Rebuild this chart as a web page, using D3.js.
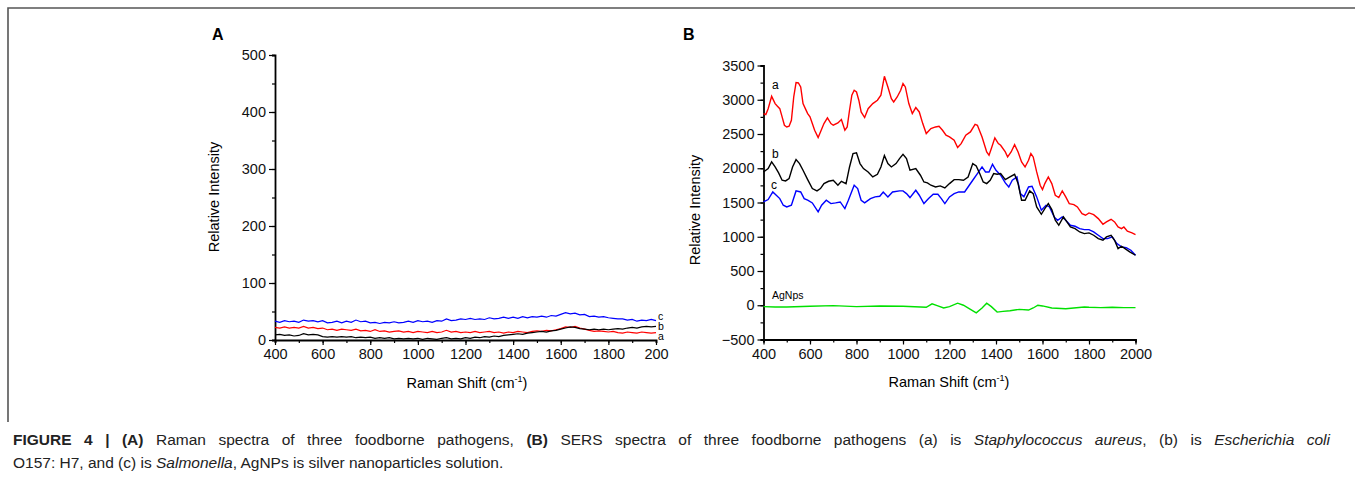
<!DOCTYPE html>
<html>
<head>
<meta charset="utf-8">
<script src="https://cdn.jsdelivr.net/npm/d3@7"></script>
<style>
  body { margin: 0; background: #fff; }
  svg { display: block; font-family: "Liberation Sans", Arial, sans-serif; }
</style>
</head>
<body>
<svg id="fig" width="1355" height="484"></svg>
<script>
// ---- panel A : Raman spectra, sampled every 20 cm-1 from 400 to 2000
const shiftA = d3.range(400, 2001, 20);
const ramanA_a = [22,21,23,21,22,21,24,21,22,20,21,18,19,17,19,18,17,19,16,17,15,18,15,16,14,15,16,14,15,13,15,14,13,15,13,14,17,14,15,13,14,13,15,13,14,15,13,14,12,14,13,15,14,13,15,16,15,17,16,18,20,23,22,24,21,19,17,15,16,15,14,15,13,12,14,13,12,14,13,12,13];
const ramanA_b = [9,10,8,9,7,8,11,9,10,9,6,5,6,5,6,5,6,4,5,4,5,3,4,3,4,2,3,2,3,2,3,1,3,2,1,3,4,2,3,2,4,3,5,4,6,5,7,6,8,9,10,11,10,12,13,14,15,14,16,17,19,21,23,22,20,19,18,19,18,19,18,19,20,19,21,22,21,23,24,23,24];
const ramanA_c = [33,31,34,32,33,31,35,33,34,32,34,30,31,33,30,33,31,35,32,33,30,31,29,31,30,32,30,31,33,31,34,32,33,31,34,33,37,34,35,37,36,38,36,37,36,39,37,38,40,38,40,38,41,39,41,40,42,40,43,42,45,48,46,47,44,45,41,42,40,41,39,38,37,37,35,36,33,35,34,36,34];
const xTickLabelsA = ["400","600","800","1000","1200","1400","1600","1800","200"];
const yTicksA = [0,100,200,300,400,500];

// ---- panel B : SERS spectra, [shift, intensity]
const sersB_a = [[400,2798],[410,2783],[420,2870],[435,3050],[450,2944],[460,2905],[470,2870],[480,2750],[490,2628],[500,2603],[510,2613],[520,2700],[530,3040],[540,3250],[550,3245],[560,3187],[570,2944],[580,2870],[590,2798],[600,2750],[610,2652],[620,2555],[635,2448],[645,2530],[660,2652],[675,2735],[690,2652],[700,2628],[720,2662],[735,2710],[750,2555],[760,2603],[770,2847],[780,3066],[790,3139],[800,3114],[810,2993],[820,2822],[835,2740],[850,2870],[870,2944],[890,2993],[905,3066],[920,3343],[935,3187],[950,3017],[960,2968],[975,3040],[990,3139],[1000,3236],[1010,3187],[1025,2944],[1040,2798],[1055,2886],[1070,2822],[1085,2652],[1100,2506],[1120,2579],[1140,2603],[1155,2613],[1170,2555],[1185,2482],[1200,2457],[1220,2409],[1235,2302],[1250,2360],[1270,2482],[1290,2530],[1310,2642],[1320,2628],[1340,2457],[1360,2238],[1370,2190],[1380,2287],[1395,2443],[1410,2360],[1420,2336],[1440,2238],[1450,2165],[1465,2238],[1480,2345],[1495,2238],[1510,2092],[1525,2019],[1540,2117],[1550,2214],[1560,2165],[1575,1946],[1590,1752],[1600,1688],[1610,1776],[1625,1873],[1640,1776],[1655,1606],[1670,1572],[1685,1669],[1700,1581],[1715,1484],[1735,1470],[1750,1435],[1770,1338],[1785,1314],[1800,1348],[1820,1323],[1840,1265],[1860,1182],[1875,1216],[1895,1255],[1910,1216],[1925,1143],[1940,1119],[1950,1143],[1965,1080],[1985,1056],[2000,1032]];
const sersB_b = [[400,1946],[420,1995],[435,2092],[450,2019],[465,1932],[480,1825],[495,1815],[510,1849],[525,2019],[540,2126],[555,2068],[570,1971],[590,1834],[610,1703],[630,1669],[645,1703],[660,1776],[680,1810],[700,1825],[720,1752],[735,1810],[755,1776],[770,2019],[785,2214],[800,2224],[815,2068],[830,1995],[850,1946],[870,1873],[890,1912],[905,2019],[920,2185],[935,2068],[950,2019],[970,2068],[985,2141],[1000,2204],[1015,2141],[1030,1971],[1055,1995],[1075,1898],[1090,1800],[1105,1786],[1120,1752],[1140,1727],[1160,1742],[1180,1713],[1200,1776],[1220,1834],[1240,1834],[1260,1825],[1280,1873],[1300,2068],[1315,2034],[1330,1922],[1345,1800],[1360,1776],[1375,1825],[1390,1922],[1405,1912],[1420,1922],[1440,1834],[1460,1873],[1480,1912],[1495,1776],[1510,1533],[1525,1533],[1545,1669],[1560,1630],[1575,1435],[1595,1328],[1610,1411],[1625,1484],[1640,1397],[1655,1241],[1670,1168],[1690,1290],[1705,1216],[1720,1143],[1740,1119],[1760,1070],[1780,1046],[1800,1056],[1820,1022],[1840,973],[1860,949],[1875,998],[1895,1022],[1910,949],[1925,827],[1940,861],[1955,827],[1975,779],[2000,730]];
const sersB_c = [[400,1508],[420,1543],[440,1654],[455,1606],[470,1557],[485,1460],[500,1435],[520,1460],[540,1669],[560,1654],[575,1557],[590,1533],[610,1494],[635,1363],[650,1460],[670,1533],[690,1484],[710,1494],[730,1508],[750,1411],[765,1533],[790,1752],[805,1703],[820,1533],[835,1494],[860,1557],[880,1582],[900,1591],[915,1654],[935,1582],[955,1654],[985,1669],[1000,1669],[1015,1630],[1030,1572],[1055,1679],[1070,1606],[1090,1484],[1110,1557],[1130,1620],[1150,1620],[1165,1557],[1180,1484],[1200,1582],[1220,1630],[1240,1654],[1265,1654],[1285,1752],[1300,1825],[1320,1922],[1340,2019],[1355,1946],[1370,1946],[1385,2058],[1400,1971],[1420,1898],[1440,1786],[1455,1727],[1470,1825],[1490,1873],[1505,1630],[1520,1582],[1540,1727],[1555,1737],[1575,1582],[1595,1387],[1615,1460],[1630,1435],[1650,1290],[1665,1241],[1685,1290],[1700,1241],[1720,1168],[1740,1153],[1760,1119],[1780,1104],[1800,1104],[1820,1070],[1840,1022],[1860,973],[1880,973],[1900,998],[1920,900],[1940,852],[1960,842],[1980,803],[2000,730]];
const sersB_ag = [[400,-20],[450,-25],[500,-25],[600,-15],[700,-5],[800,-20],[900,-12],[1000,-15],[1100,-30],[1125,20],[1150,-10],[1175,-40],[1200,-20],[1235,30],[1260,0],[1290,-60],[1315,-110],[1340,-40],[1360,30],[1380,-20],[1405,-100],[1430,-90],[1460,-80],[1500,-60],[1540,-70],[1560,-40],[1580,0],[1600,-10],[1640,-40],[1700,-50],[1780,-25],[1800,-30],[1850,-35],[1900,-30],[1950,-35],[2000,-35]];
const xTicksB = [400,600,800,1000,1200,1400,1600,1800,2000];
const yTicksB = [-500,0,500,1000,1500,2000,2500,3000,3500];

const svg = d3.select("#fig");

// frame lines
svg.append("path")
  .attr("d", "M8,422 V8 H1355")
  .attr("fill", "none").attr("stroke", "#555").attr("stroke-width", 1.6);

function styleAxis(g) {
  g.select(".domain").attr("stroke", "#000").attr("stroke-width", 1.8);
  g.selectAll(".tick line").attr("stroke", "#000").attr("stroke-width", 1.2);
  g.selectAll(".tick text").attr("font-size", 14.5).attr("fill", "#111")
    .attr("font-family", "Liberation Sans, Arial, sans-serif");
}

// ================= Panel A
const xA = d3.scaleLinear().domain([400, 2000]).range([275, 656]);
const yA = d3.scaleLinear().domain([0, 500]).range([340, 55]);

svg.append("g").attr("transform", "translate(0,340)")
  .call(d3.axisBottom(xA).tickValues(d3.range(400, 2001, 100)).tickSize(3).tickFormat(""))
  .call(styleAxis);
svg.append("g").attr("transform", "translate(0,340)")
  .call(d3.axisBottom(xA).tickValues(d3.range(400, 2001, 200)).tickSize(5).tickPadding(4)
    .tickFormat((d, i) => xTickLabelsA[i]))
  .call(styleAxis)
  .call(g => g.select(".domain").remove());

svg.append("g").attr("transform", "translate(275,0)")
  .call(d3.axisLeft(yA).tickValues(d3.range(0, 501, 50)).tickSize(3).tickFormat(""))
  .call(styleAxis);
svg.append("g").attr("transform", "translate(275,0)")
  .call(d3.axisLeft(yA).tickValues(yTicksA).tickSize(6).tickPadding(3))
  .call(styleAxis)
  .call(g => g.select(".domain").remove());

const lineA = d3.line().x((d, i) => xA(shiftA[i])).y(d => yA(d));
[[ramanA_c, "#0000ff"], [ramanA_a, "#ff0000"], [ramanA_b, "#000000"]].forEach(([s, c]) => {
  svg.append("path").datum(s).attr("d", lineA)
    .attr("fill", "none").attr("stroke", c).attr("stroke-width", 1.2);
});
[["c", 320], ["b", 330], ["a", 340]].forEach(([t, y]) => {
  svg.append("text").attr("x", 658).attr("y", y).attr("font-size", 10.5).text(t);
});

svg.append("text").attr("x", 212).attr("y", 40).attr("font-size", 16).attr("font-weight", "bold").text("A");
svg.append("text").attr("transform", "translate(219,197) rotate(-90)").attr("text-anchor", "middle")
  .attr("font-size", 14.5).text("Relative Intensity");
const tA = svg.append("text").attr("x", 467).attr("y", 388).attr("text-anchor", "middle").attr("font-size", 14.5);
tA.append("tspan").text("Raman Shift (cm");
tA.append("tspan").attr("dy", -6).attr("font-size", 9).text("-1");
tA.append("tspan").attr("dy", 6).text(")");

// ================= Panel B
const xB = d3.scaleLinear().domain([400, 2000]).range([763.5, 1135.5]);
const yB = d3.scaleLinear().domain([-500, 3500]).range([339.5, 65.5]);

svg.append("g").attr("transform", "translate(0,339.5)")
  .call(d3.axisBottom(xB).tickValues(d3.range(400, 2001, 100)).tickSize(3).tickFormat(""))
  .call(styleAxis);
svg.append("g").attr("transform", "translate(0,339.5)")
  .call(d3.axisBottom(xB).tickValues(xTicksB).tickSize(5).tickPadding(4).tickFormat(d3.format("d")))
  .call(styleAxis)
  .call(g => g.select(".domain").remove());

svg.append("g").attr("transform", "translate(763.5,0)")
  .call(d3.axisLeft(yB).tickValues(d3.range(-500, 3501, 250)).tickSize(3).tickFormat(""))
  .call(styleAxis);
svg.append("g").attr("transform", "translate(763.5,0)")
  .call(d3.axisLeft(yB).tickValues(yTicksB).tickSize(6).tickPadding(3).tickFormat(d3.format("d")))
  .call(styleAxis)
  .call(g => g.select(".domain").remove());

const lineB = d3.line().x(d => xB(d[0])).y(d => yB(d[1]));
[[sersB_ag, "#00e000"], [sersB_a, "#ff0000"], [sersB_c, "#0000ff"], [sersB_b, "#000000"]].forEach(([s, c]) => {
  svg.append("path").datum(s).attr("d", lineB)
    .attr("fill", "none").attr("stroke", c).attr("stroke-width", 1.4);
});
svg.append("text").attr("x", 772).attr("y", 89).attr("font-size", 12).text("a");
svg.append("text").attr("x", 772).attr("y", 158).attr("font-size", 12).text("b");
svg.append("text").attr("x", 771).attr("y", 189).attr("font-size", 12).text("c");
svg.append("text").attr("x", 772).attr("y", 299).attr("font-size", 10.5).text("AgNps");

svg.append("text").attr("x", 683).attr("y", 40).attr("font-size", 16).attr("font-weight", "bold").text("B");
svg.append("text").attr("transform", "translate(700,210) rotate(-90)").attr("text-anchor", "middle")
  .attr("font-size", 14.5).text("Relative Intensity");
const tB = svg.append("text").attr("x", 949).attr("y", 387).attr("text-anchor", "middle").attr("font-size", 14.5);
tB.append("tspan").text("Raman Shift (cm");
tB.append("tspan").attr("dy", -6).attr("font-size", 9).text("-1");
tB.append("tspan").attr("dy", 6).text(")");

// ================= Caption (justified first line)
const capSize = 15.5;
const cap1 = svg.append("text").attr("x", 13).attr("y", 445).attr("font-size", capSize).attr("fill", "#222");
cap1.append("tspan").attr("font-weight", "bold").text("FIGURE 4 | (A)");
cap1.append("tspan").text(" Raman spectra of three foodborne pathogens, ");
cap1.append("tspan").attr("font-weight", "bold").text("(B)");
cap1.append("tspan").text(" SERS spectra of three foodborne pathogens (a) is ");
cap1.append("tspan").attr("font-style", "italic").text("Staphylococcus aureus");
cap1.append("tspan").text(", (b) is ");
cap1.append("tspan").attr("font-style", "italic").text("Escherichia coli");
const natural = cap1.node().getComputedTextLength();
const spaces = cap1.text().split(" ").length - 1;
cap1.attr("word-spacing", Math.max(0, (1317 - natural) / spaces));

const cap2 = svg.append("text").attr("x", 13).attr("y", 468).attr("font-size", capSize).attr("fill", "#222");
cap2.append("tspan").text("O157: H7, and (c) is ");
cap2.append("tspan").attr("font-style", "italic").text("Salmonella");
cap2.append("tspan").text(", AgNPs is silver nanoparticles solution.");
</script>
</body>
</html>
